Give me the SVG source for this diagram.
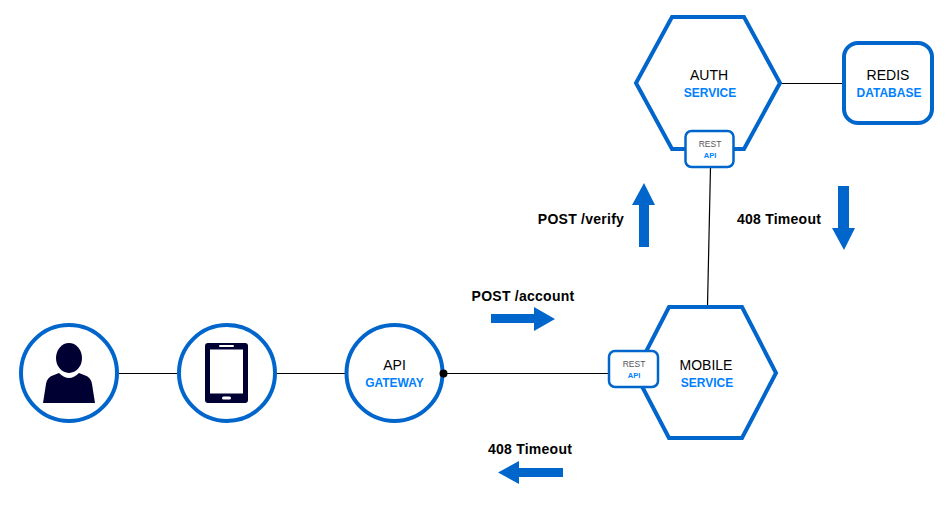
<svg xmlns="http://www.w3.org/2000/svg" width="951" height="507" viewBox="0 0 951 507">
<style>
text{font-family:"Liberation Sans",Arial,sans-serif;text-anchor:middle}
.s{fill:#fff;stroke:#0066cc;stroke-width:4}
.a{fill:#fff;stroke:#0066cc;stroke-width:2.5}
.l{fill:none;stroke:#000;stroke-width:1.2}
.t{font-size:14px;fill:#000}
.b{font-size:12px;font-weight:bold;fill:#007fff}
.rt{font-size:8.500px;fill:#555}
.rb{font-size:7.500px;font-weight:bold;fill:#007fff}
.lab{font-size:14px;font-weight:bold;fill:#000;letter-spacing:.25px}
.ar{fill:#0066cc}
.ic{fill:#000033}
</style>
<rect width="951" height="507" fill="#fff"/>
<g id="connectors">
<path class="l" d="M118 373.500H178"/>
<path class="l" d="M276 373.500H346"/>
<path class="l" d="M443 373.500H609"/>
<path class="l" d="M780 83.500H844"/>
<path class="l" d="M710.500 167L707.500 306"/>
</g>
<g id="user">
<circle class="s" cx="69" cy="373" r="48"/>
<ellipse class="ic" cx="69" cy="358" rx="13" ry="15"/>
<path class="ic" d="M43 403L46 384Q47 377 54 375L59 373Q69 383 79 373L84 375Q91 377 92 384L95 403Z"/>
</g>
<g id="phone">
<circle class="s" cx="227" cy="373" r="48"/>
<rect class="ic" x="205" y="343" width="43" height="60" rx="3"/>
<rect x="210" y="349.500" width="33" height="44" fill="#fff"/>
<rect x="219" y="345" width="15" height="2" rx="1" fill="#fff"/>
<rect x="222" y="396.500" width="9" height="3" rx="1.500" fill="#fff"/>
</g>
<g id="api-gateway">
<circle class="s" cx="394.500" cy="373" r="48"/>
<circle cx="443.500" cy="373.500" r="4" fill="#000"/>
<text class="t" x="394.500" y="370">API</text>
<text class="b" x="394.500" y="387">GATEWAY</text>
</g>
<g id="mobile-service">
<path class="s" d="M669 307H742L776 373L742 438H669L635 373Z"/>
<text class="t" x="706" y="370">MOBILE</text>
<text class="b" x="707" y="387">SERVICE</text>
</g>
<g id="mobile-rest">
<rect class="a" x="609" y="351" width="49" height="36" rx="6"/>
<text class="rt" x="634" y="367">REST</text>
<text class="rb" x="634" y="377.500">API</text>
</g>
<g id="auth-service">
<path class="s" d="M672 17H744L780 83L744 149H672L636 83Z"/>
<text class="t" x="709" y="80">AUTH</text>
<text class="b" x="710" y="97">SERVICE</text>
</g>
<g id="auth-rest">
<rect class="a" x="685.500" y="131" width="48" height="36" rx="6"/>
<text class="rt" x="710" y="147">REST</text>
<text class="rb" x="710" y="157.500">API</text>
</g>
<g id="redis">
<rect class="s" x="844" y="43" width="88" height="80" rx="14"/>
<text class="t" x="888" y="80">REDIS</text>
<text class="b" x="889" y="97">DATABASE</text>
</g>
<g id="arrows">
<path class="ar" d="M491 314H534V307L555 319L534 331V323H491Z"/>
<path class="ar" d="M563 468H519V461L498 472.500L519 484V477H563Z"/>
<path class="ar" d="M639 247V205H632L644 183L655 205H649V247Z"/>
<path class="ar" d="M838 186H849V228H855L844 250L832 228H838Z"/>
</g>
<g id="labels">
<text class="lab" x="523" y="301">POST /account</text>
<text class="lab" x="530" y="454">408 Timeout</text>
<text class="lab" x="581" y="224">POST /verify</text>
<text class="lab" x="779" y="224">408 Timeout</text>
</g>
</svg>
